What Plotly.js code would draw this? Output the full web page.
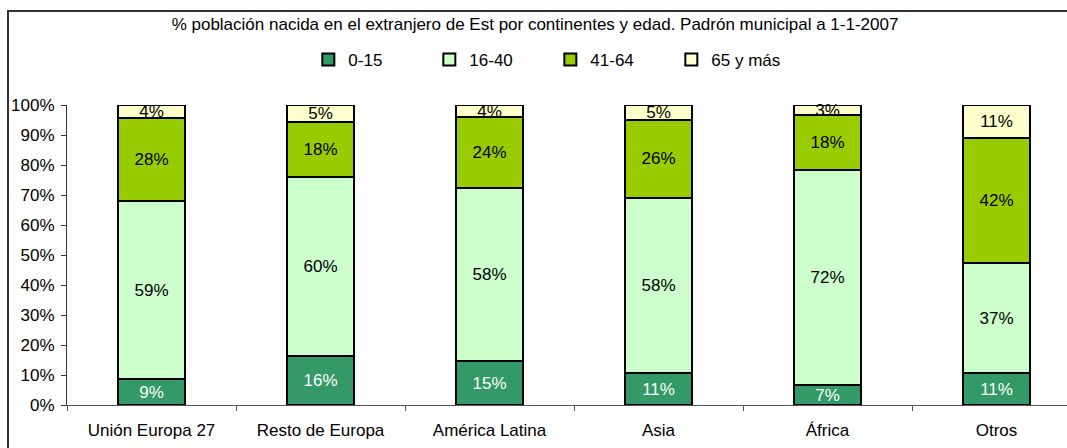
<!DOCTYPE html>
<html><head><meta charset="utf-8">
<script src="https://cdn.plot.ly/plotly-3.0.1.min.js"></script>
<style>
html,body{margin:0;padding:0;overflow:hidden;width:1067px;height:448px;background:#fff}
#frame{position:absolute;left:7px;top:10px;border-left:2px solid #333;border-top:2px solid #333;width:1110px;height:470px;}
#chart{width:1092px;height:460px}
</style></head>
<body><div id="frame"><div id="chart"></div></div>
<script>
const categories = ["Unión Europa 27", "Resto de Europa", "América Latina", "Asia", "África", "Otros"];
const seriesNames = ["0-15", "16-40", "41-64", "65 y más"];
const age0_15  = [8.6, 16.4, 14.6, 10.6, 6.6, 10.6];
const age16_40 = [59.3, 59.7, 57.8, 58.4, 71.9, 36.6];
const age41_64 = [27.7, 18.4, 23.6, 26.1, 18.1, 41.9];
const age65    = [4.4, 5.4, 4.0, 4.9, 3.4, 10.9];
const yTicks = [0,10,20,30,40,50,60,70,80,90,100];

const colors = ["#339966", "#CCFFCC", "#99CC00", "#FFFFCC"];
const textColors = ["#ffffff", "#000000", "#000000", "#000000"];
const seriesValues = [age0_15, age16_40, age41_64, age65];
const FONT = "Liberation Sans, Arial, sans-serif";
const FS = 17;

const traces = seriesValues.map((vals, i) => ({
  type: "bar",
  name: seriesNames[i],
  x: categories,
  y: vals,
  marker: {color: colors[i], line: {color: "#000", width: 2}},
  texttemplate: "%{y:.0f}%",
  textposition: "inside",
  insidetextanchor: "middle",
  textangle: 0,
  constraintext: "none",
  cliponaxis: false,
  insidetextfont: {family: FONT, size: FS, color: textColors[i]},
  hoverinfo: "skip"
}));

const layout = {
  width: 1092, height: 460,
  margin: {l: 58, r: 20, t: 93, b: 67},
  barmode: "stack",
  bargap: 0.6,
  paper_bgcolor: "#fff",
  plot_bgcolor: "#fff",
  font: {family: FONT, size: FS, color: "#000"},
  uniformtext: {mode: "show", minsize: FS},
  showlegend: true,
  title: {
    text: "% población nacida en el extranjero de Est por continentes y edad. Padrón municipal a 1-1-2007",
    font: {family: FONT, size: FS, color: "#000"},
    xref: "container", x: 0.4817, xanchor: "center",
    yref: "container", y: 0.974, yanchor: "middle"
  },
  legend: {
    orientation: "h",
    x: 0.238, xanchor: "left",
    y: 1.15, yanchor: "middle",
    entrywidth: 76, entrywidthmode: "pixels",
    font: {family: FONT, size: FS, color: "#000"},
    traceorder: "normal",
    bgcolor: "rgba(0,0,0,0)"
  },
  xaxis: {
    type: "category",
    showline: true, linecolor: "#555", linewidth: 1,
    ticks: "outside", tickson: "boundaries", ticklen: 5, tickcolor: "#555",
    showgrid: false, zeroline: false,
    ticklabelstandoff: 10,
    tickfont: {family: FONT, size: FS, color: "#000"}
  },
  yaxis: {
    range: [0, 100],
    tickvals: yTicks,
    ticktext: yTicks.map(v => v + "%"),
    showline: true, linecolor: "#333", linewidth: 1,
    ticks: "outside", ticklen: 5, tickcolor: "#333",
    showgrid: false, zeroline: false,
    ticklabelstandoff: 3,
    tickfont: {family: FONT, size: FS, color: "#000"}
  }
};

Plotly.newPlot("chart", traces, layout, {staticPlot: true, displayModeBar: false});
</script>
</body></html>
